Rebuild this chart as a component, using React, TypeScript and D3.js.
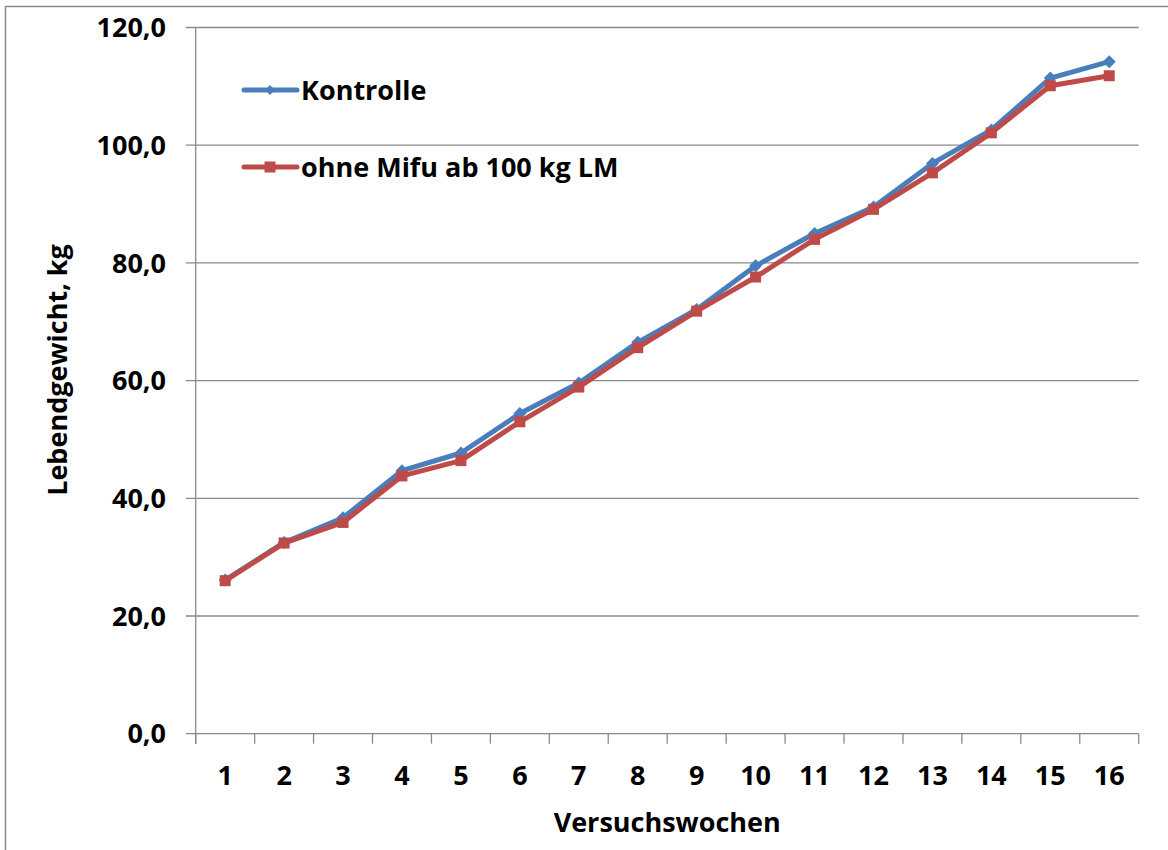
import React from "react";
import * as d3 from "d3";

const weeks = ["1","2","3","4","5","6","7","8","9","10","11","12","13","14","15","16"];
const kontrolle = [26.1, 32.5, 36.7, 44.7, 47.7, 54.4, 59.6, 66.5, 72.1, 79.5, 85.0, 89.5, 96.9, 102.6, 111.4, 114.2];
const ohneMifu = [26.0, 32.4, 35.9, 43.8, 46.4, 53.0, 58.9, 65.6, 71.8, 77.6, 84.0, 89.1, 95.3, 102.1, 110.1, 111.8];
const yTicks = [0, 20, 40, 60, 80, 100, 120];
const seriesNames = ["Kontrolle", "ohne Mifu ab 100 kg LM"];

const W = 1168, H = 850;
const left = 195.7, right = 1138.7, top = 27.5, bottom = 733.7;
const FONT = "'Open Sans', sans-serif";
const FS = 27;
const GRID = "#8a8a8a";
const BLUE = "#4a7ebb";
const RED = "#be4b48";

export default function App() {
  const x = d3.scaleBand<string>().domain(weeks).range([left, right]).padding(0);
  const y = d3.scaleLinear().domain([0, 120]).range([bottom, top]);
  const cx = (w: string) => (x(w) as number) + x.bandwidth() / 2;
  const line = d3.line<number>().x((_, i) => cx(weeks[i])).y((v) => y(v));
  const fmt = (v: number) => v.toFixed(1).replace(".", ",");
  const diamond = (px: number, py: number, r: number) =>
    `M${px},${py - r}L${px + r},${py}L${px},${py + r}L${px - r},${py}Z`;
  const sq = 5.5;
  const boundaries = weeks.map((w) => x(w) as number).concat([right]);

  return (
    <svg width={W} height={H} style={{ position: "absolute", left: 0, top: 0, background: "#fff" }}
      fontFamily={FONT} fontWeight="bold">
      <rect x={0} y={0} width={W} height={H} fill="#fff" />
      <rect x={5.5} y={6.5} width={W + 20} height={H + 20} fill="none" stroke={GRID} strokeWidth={1.5} />
      {/* gridlines */}
      {yTicks.filter((t) => t > 0).map((t) => (
        <line key={t} x1={left - 10} x2={right} y1={y(t)} y2={y(t)} stroke={GRID} strokeWidth={1.3} />
      ))}
      {/* y axis */}
      <line x1={left} x2={left} y1={top} y2={bottom + 10} stroke={GRID} strokeWidth={1.3} />
      <line x1={left - 10} x2={right} y1={bottom} y2={bottom} stroke={GRID} strokeWidth={1.3} />
      {boundaries.map((b, i) => (
        <line key={i} x1={b} x2={b} y1={bottom} y2={bottom + 10} stroke={GRID} strokeWidth={1.3} />
      ))}
      {yTicks.map((t) => (
        <text key={t} x={166} y={y(t) + 9.6} textAnchor="end" fontSize={FS} fill="#000">{fmt(t)}</text>
      ))}
      {weeks.map((w) => (
        <text key={w} x={cx(w)} y={785} textAnchor="middle" fontSize={FS} fill="#000">{w}</text>
      ))}
      <text x={(left + right) / 2} y={832} textAnchor="middle" fontSize={FS} fill="#000">Versuchswochen</text>
      <text transform={`translate(67,370) rotate(-90)`} textAnchor="middle" fontSize={FS} fill="#000">Lebendgewicht, kg</text>
      {/* series */}
      <path d={line(kontrolle) as string} fill="none" stroke={BLUE} strokeWidth={5} strokeLinejoin="round" />
      {kontrolle.map((v, i) => (
        <path key={i} d={diamond(cx(weeks[i]), y(v), 6.5)} fill={BLUE} />
      ))}
      <path d={line(ohneMifu) as string} fill="none" stroke={RED} strokeWidth={5} strokeLinejoin="round" />
      {ohneMifu.map((v, i) => (
        <rect key={i} x={cx(weeks[i]) - sq} y={y(v) - sq} width={sq * 2} height={sq * 2} fill={RED} />
      ))}
      {/* legend */}
      <line x1={244} x2={297} y1={90} y2={90} stroke={BLUE} strokeWidth={5} strokeLinecap="round" />
      <path d={diamond(270, 90, 5)} fill={BLUE} />
      <text x={301} y={100} fontSize={FS} fill="#000">{seriesNames[0]}</text>
      <line x1={244} x2={297} y1={167} y2={167} stroke={RED} strokeWidth={5} strokeLinecap="round" />
      <rect x={264.5} y={161.5} width={11} height={11} fill={RED} />
      <text x={301} y={177} fontSize={FS} fill="#000">{seriesNames[1]}</text>
    </svg>
  );
}
